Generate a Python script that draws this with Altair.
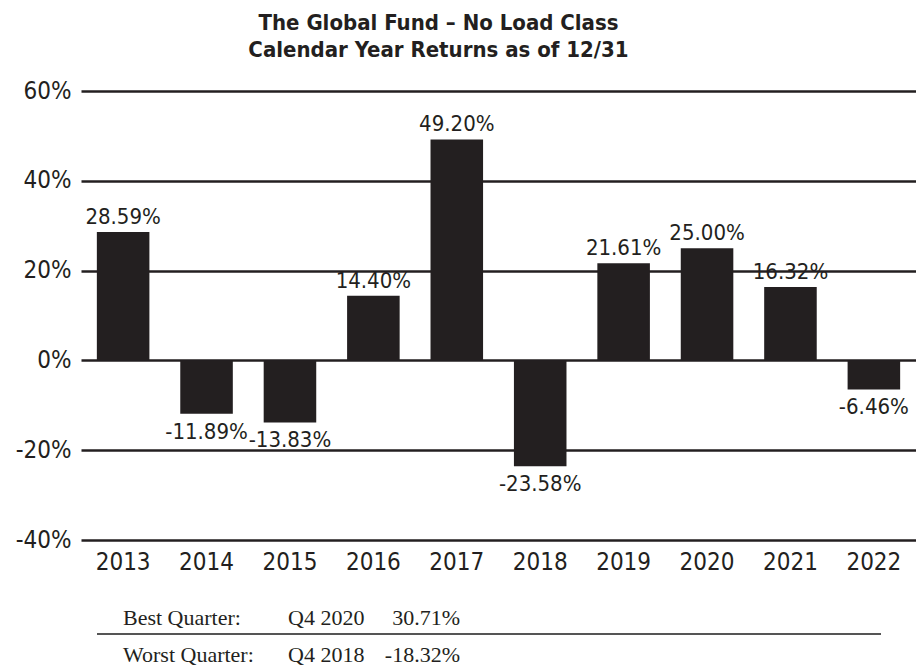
import altair as alt
import pandas as pd

# ---- data ----
years = ["2013", "2014", "2015", "2016", "2017", "2018", "2019", "2020", "2021", "2022"]
returns = [28.59, -11.89, -13.83, 14.40, 49.20, -23.58, 21.61, 25.00, 16.32, -6.46]
y_ticks = [-40, -20, 0, 20, 40, 60]

table_names = ["Best Quarter:", "Worst Quarter:"]
table_quarters = ["Q4 2020", "Q4 2018"]
table_values = ["30.71%", "-18.32%"]

INK = "#231f20"
NARROW = "Liberation Sans Narrow, DejaVu Sans Condensed, sans-serif"
SERIF = "Liberation Serif, Times New Roman, serif"

df = pd.DataFrame({"year": years, "ret": returns})
df["label"] = df["ret"].map(lambda v: f"{v:.2f}%")

x_enc = alt.X(
    "year:N",
    sort=years,
    scale=alt.Scale(paddingInner=0.37, paddingOuter=0.19),
    axis=alt.Axis(
        title=None, labelAngle=0, domain=False, ticks=False,
        labelFont=NARROW, labelFontSize=24, labelColor=INK, labelPadding=10,
    ),
)
y_enc = alt.Y(
    "ret:Q",
    scale=alt.Scale(domain=[-40, 60], nice=False, zero=False),
    axis=alt.Axis(
        title=None, values=y_ticks, labelExpr="datum.value + '%'",
        domain=False, ticks=False, grid=True, gridColor=INK, gridWidth=2.5,
        gridOpacity=1, labelFont=NARROW, labelFontSize=24, labelColor=INK,
        labelPadding=10,
    ),
)

bars = alt.Chart(df).mark_bar(color=INK).encode(x=x_enc, y=y_enc)

pos_labels = alt.Chart(df).transform_filter("datum.ret >= 0").mark_text(
    font=NARROW, fontSize=22, color=INK, baseline="alphabetic", dy=-8
).encode(x=alt.X("year:N", sort=years), y="ret:Q", text="label:N")

neg_labels = alt.Chart(df).transform_filter("datum.ret < 0").mark_text(
    font=NARROW, fontSize=22, color=INK, baseline="top", dy=8
).encode(x=alt.X("year:N", sort=years), y="ret:Q", text="label:N")

# ---- quarter table under the chart ----
tdf = pd.DataFrame({
    "name": table_names,
    "quarter": table_quarters,
    "value": table_values,
})
best = tdf.iloc[[0]]
worst = tdf.iloc[[1]]

def table_row(data, y_px):
    base = alt.Chart(data)
    name = base.mark_text(font=SERIF, fontSize=22, color=INK, align="left",
                          baseline="alphabetic").encode(
        x=alt.value(42), y=alt.value(y_px), text="name:N")
    q = base.mark_text(font=SERIF, fontSize=22, color=INK, align="left",
                       baseline="alphabetic").encode(
        x=alt.value(207), y=alt.value(y_px), text="quarter:N")
    v = base.mark_text(font=SERIF, fontSize=22, color=INK, align="right",
                       baseline="alphabetic").encode(
        x=alt.value(379), y=alt.value(y_px), text="value:N")
    return [name, q, v]

sep = alt.Chart(best).mark_rule(color="#555555", strokeWidth=2).encode(
    x=alt.value(16), x2=alt.value(800), y=alt.value(543)
)

chart = alt.layer(
    bars, pos_labels, neg_labels, sep,
    *table_row(best, 534), *table_row(worst, 571),
).properties(
    width=835,
    height=449,
    padding={"left": 15, "top": 12, "right": 0, "bottom": 0},
    title=alt.Title(
        ["The Global Fund \u2013 No Load Class", "Calendar Year Returns as of 12/31"],
        font=NARROW, fontSize=22, fontWeight="bold", color=INK,
        anchor="middle", lineHeight=27, offset=17, dx=-60,
    ),
).configure_view(stroke=None)

chart.save("out.html", embed_options={"renderer": "svg", "actions": False})
